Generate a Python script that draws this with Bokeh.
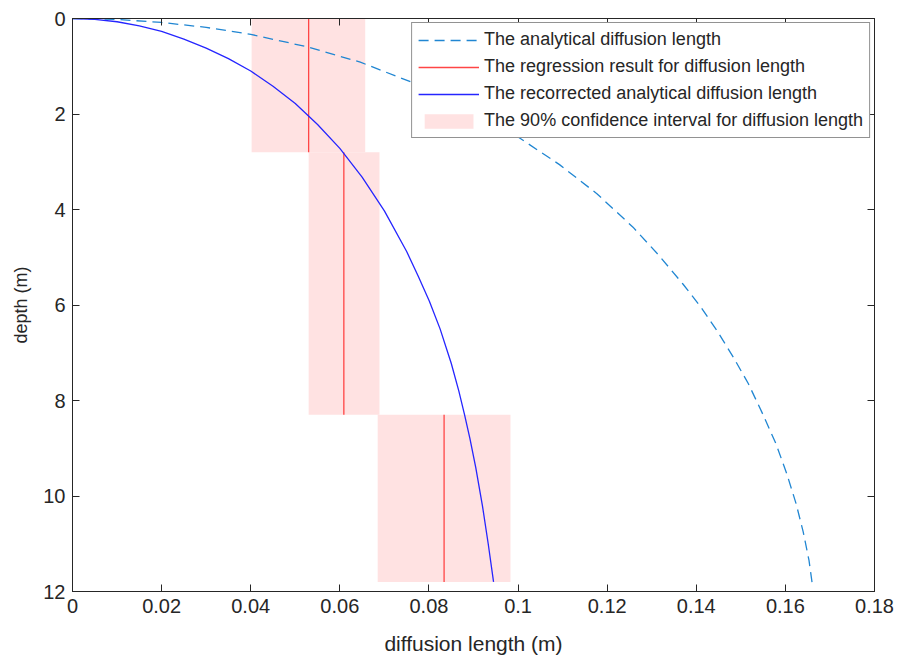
from bokeh.plotting import figure
from bokeh.models import (Range1d, LinearAxis, FixedTicker, Legend, LegendItem,
                          ColumnDataSource)
from bokeh.embed import file_html
from bokeh.resources import INLINE

# ---- data ----
# analytical diffusion length (dashed): diffusion length (m) vs depth (m)
ana_x = [0.0, 0.010, 0.020, 0.030, 0.040, 0.053, 0.0646, 0.0760, 0.0888, 0.0995,
         0.1093, 0.1177, 0.1258, 0.1316, 0.1370, 0.1410, 0.1446, 0.1483, 0.1517,
         0.1549, 0.1579, 0.1603, 0.1624, 0.1640, 0.1653, 0.1660]
ana_depth = [0.0, 0.020, 0.083, 0.186, 0.332, 0.60, 0.915, 1.33, 1.90, 2.45,
             3.06, 3.67, 4.37, 4.96, 5.56, 6.04, 6.53, 7.09, 7.65,
             8.28, 8.91, 9.53, 10.16, 10.75, 11.35, 11.82]

# recorrected analytical diffusion length (blue)
rec_x = [0.0, 0.005, 0.010, 0.015, 0.020, 0.025, 0.030, 0.035, 0.040, 0.045,
         0.050, 0.055, 0.060, 0.065, 0.070, 0.0750, 0.0776, 0.0801, 0.0825,
         0.0850, 0.0867, 0.0880, 0.0892, 0.0905, 0.0920, 0.0933, 0.0945]
rec_depth = [0.0, 0.017, 0.068, 0.153, 0.27, 0.43, 0.62, 0.84, 1.10, 1.42,
             1.78, 2.22, 2.72, 3.32, 4.03, 4.88, 5.40, 5.92, 6.50,
             7.22, 7.80, 8.30, 8.80, 9.40, 10.20, 11.00, 11.80]

# regression result and 90% confidence interval per depth layer
layer_top = [0.0, 2.8, 8.3]
layer_bottom = [2.8, 8.3, 11.8]
regression = [0.0530, 0.0609, 0.0834]
ci_lower = [0.0402, 0.0530, 0.0685]
ci_upper = [0.0657, 0.0689, 0.0983]

x_ticks = [0, 0.02, 0.04, 0.06, 0.08, 0.1, 0.12, 0.14, 0.16, 0.18]
x_tick_labels = ["0", "0.02", "0.04", "0.06", "0.08", "0.1", "0.12", "0.14", "0.16", "0.18"]
y_ticks = [0, 2, 4, 6, 8, 10, 12]

FONT = "Liberation Sans"
AX = "#262626"

p = figure(width=900, height=660, x_range=Range1d(0, 0.18), y_range=Range1d(12, 0),
           output_backend="svg", toolbar_location=None,
           min_border_left=72, min_border_right=26, min_border_top=18,
           min_border_bottom=69, x_axis_label="diffusion length (m)",
           y_axis_label="depth (m)")
p.background_fill_color = "white"
p.border_fill_color = "white"
p.outline_line_color = AX
p.xgrid.visible = False
p.ygrid.visible = False

ci_src = ColumnDataSource(dict(left=ci_lower, right=ci_upper, top=layer_top,
                               bottom=layer_bottom, reg=regression))
r_ci = p.quad(left="left", right="right", top="top", bottom="bottom", source=ci_src,
              fill_color="#FFE2E2", line_color=None)
r_ana = p.line(ana_x, ana_depth, line_color="#2086d2", line_width=1.3, line_dash="10 6")
r_reg = p.segment(x0="reg", y0="top", x1="reg", y1="bottom", source=ci_src,
                  line_color="#ff4545", line_width=1.3)
r_rec = p.line(rec_x, rec_depth, line_color="#2525ff", line_width=1.3)

def style_axis(ax, labels=True, tick_size="20px", label_size="19px"):
    ax.axis_line_color = AX
    ax.major_tick_line_color = AX
    ax.major_tick_in = 7
    ax.major_tick_out = 0
    ax.minor_tick_line_color = None
    ax.major_label_text_font = FONT
    ax.axis_label_text_font = FONT
    ax.axis_label_text_font_style = "normal"
    ax.axis_label_text_color = AX
    ax.axis_label_text_font_size = label_size
    if labels:
        ax.major_label_text_color = AX
        ax.major_label_text_font_size = tick_size
    else:
        ax.major_label_text_color = None
        ax.major_label_text_font_size = "1px"
        ax.major_label_standoff = 0

xa = p.xaxis[0]
xa.ticker = FixedTicker(ticks=x_ticks)
xa.major_label_overrides = {t: s for t, s in zip(x_ticks, x_tick_labels)}
style_axis(xa, label_size="21px")
xa.major_label_standoff = 7
xa.axis_label_standoff = 16

ya = p.yaxis[0]
ya.ticker = FixedTicker(ticks=y_ticks)
style_axis(ya, label_size="18px")
ya.major_label_standoff = 7
ya.axis_label_standoff = 9

top_ax = LinearAxis(ticker=FixedTicker(ticks=x_ticks))
style_axis(top_ax, labels=False)
p.add_layout(top_ax, "above")
right_ax = LinearAxis(ticker=FixedTicker(ticks=y_ticks))
style_axis(right_ax, labels=False)
p.add_layout(right_ax, "right")

legend = Legend(items=[
    LegendItem(label="The analytical diffusion length", renderers=[r_ana]),
    LegendItem(label="The regression result for diffusion length", renderers=[r_reg]),
    LegendItem(label="The recorrected analytical diffusion length", renderers=[r_rec]),
    LegendItem(label="The 90% confidence interval for diffusion length", renderers=[r_ci]),
], location="top_right")
legend.margin = 4
legend.padding = 6
legend.spacing = 6
legend.glyph_width = 61
legend.glyph_height = 18
legend.label_height = 18
legend.label_standoff = 5
legend.label_text_font = FONT
legend.label_text_font_size = "18px"
legend.label_text_color = AX
legend.border_line_color = AX
legend.border_line_width = 1
legend.background_fill_color = "white"
legend.background_fill_alpha = 1.0
p.add_layout(legend, "center")

open("out.html", "w").write(file_html(p, INLINE))
